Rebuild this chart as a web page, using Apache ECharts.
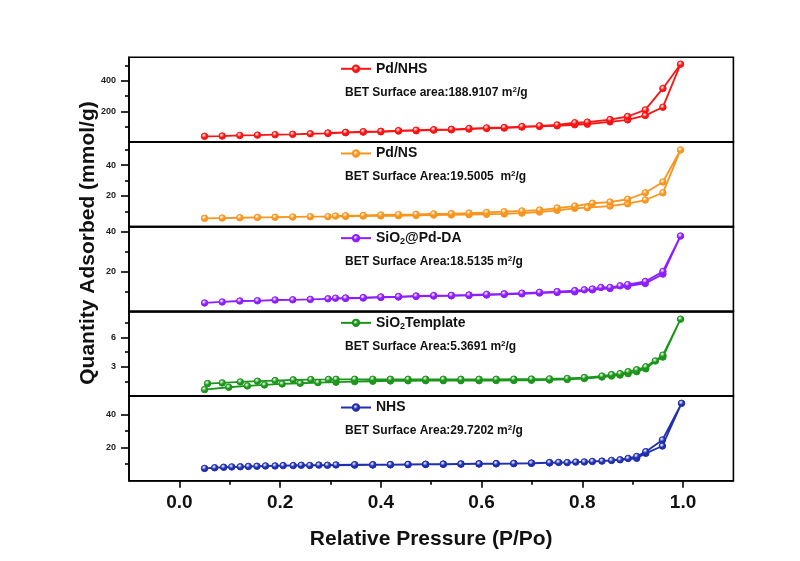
<!DOCTYPE html>
<html><head><meta charset="utf-8">
<script src="https://cdn.jsdelivr.net/npm/echarts@6/dist/echarts.min.js"></script>
<style>html,body{margin:0;padding:0;background:#fff}#c{width:800px;height:561px}</style>
</head><body><div id="c"></div>
<script>
// ---------- DATA ----------
const seriesNames = ['Pd/NHS', 'Pd/NS', 'SiO2@Pd-DA', 'SiO2Template', 'NHS'];
const legendLabels = ['Pd/NHS', 'Pd/NS', 'SiO{sub|2}@Pd-DA', 'SiO{sub|2}Template', 'NHS'];
const betLabels = [
  'BET Surface area:188.9107 m{sup|2}/g',
  'BET Surface Area:19.5005  m{sup|2}/g',
  'BET Surface Area:18.5135 m{sup|2}/g',
  'BET Surface Area:5.3691 m{sup|2}/g',
  'BET Surface Area:29.7202 m{sup|2}/g'
];
const colors = ['#fa1414', '#f7961e', '#8c1eff', '#1b961b', '#1f2fb0'];

const xLabelTicks = [0, 0.2, 0.4, 0.6, 0.8, 1.0];
const xMinorTicks = [0.1, 0.3, 0.5, 0.7, 0.9];
const yMaxima = [555, 55, 42.5, 8.7, 51];
const yLabelTicks = [[200, 400], [20, 40], [20, 40], [3, 6], [20, 40]];
const yMinorTicks = [[100, 300, 500], [10, 30, 50], [10, 30], [1.5, 4.5, 7.5], [10, 30]];

// Pd/NHS
const pdnhsAdsX = [0.05,0.085,0.12,0.155,0.19,0.225,0.26,0.295,0.33,0.365,0.40,0.435,0.47,0.505,0.54,0.575,0.61,0.645,0.68,0.715,0.75,0.785,0.81,0.855,0.89,0.925,0.96,0.995];
const pdnhsAdsY = [37,39,43,45,48,50,54,56,61,65,67,72,74,78,80,85,89,91,98,102,106,113,117,132,145,174,228,510];
const pdnhsDesX = [0.96,0.925,0.89,0.855,0.81,0.785,0.75,0.715,0.68,0.645,0.61,0.575,0.54,0.505,0.47,0.435,0.40,0.365,0.33,0.295];
const pdnhsDesY = [351,210,167,147,130,126,112,106,101,95,92,88,83,80,77,74,70,67,63,59];

// Pd/NS
const pdnsAdsX = [0.05,0.085,0.12,0.155,0.19,0.225,0.26,0.295,0.33,0.365,0.40,0.435,0.47,0.505,0.54,0.575,0.61,0.645,0.68,0.715,0.75,0.785,0.81,0.855,0.89,0.925,0.96,0.995];
const pdnsAdsY = [5.4,5.6,5.8,6.0,6.1,6.3,6.5,6.5,6.7,6.9,7.0,7.1,7.3,7.5,7.6,7.8,8.0,8.3,8.8,9.5,10.6,11.9,12.3,13.4,14.9,17.3,22.0,49.8];
const pdnsDesX = [0.96,0.925,0.89,0.855,0.82,0.785,0.75,0.715,0.68,0.645,0.61,0.575,0.54,0.505,0.47,0.435,0.40,0.365,0.33,0.31];
const pdnsDesY = [29.0,22.0,17.8,16.0,15.2,13.4,12.1,10.8,10.2,9.7,9.2,8.8,8.5,8.3,8.0,7.8,7.6,7.3,7.1,6.9];

// SiO2@Pd-DA
const pddaAdsX = [0.05,0.085,0.12,0.155,0.19,0.225,0.26,0.295,0.33,0.365,0.40,0.435,0.47,0.505,0.54,0.575,0.61,0.645,0.68,0.715,0.75,0.785,0.82,0.855,0.89,0.925,0.96,0.995];
const pddaAdsY = [4.2,4.7,5.2,5.3,5.7,5.8,6.0,6.3,6.5,6.7,7.0,7.2,7.5,7.7,7.8,8.0,8.2,8.5,8.8,9.2,9.5,9.8,10.8,11.5,12.6,14.0,18.7,37.8];
const pddaDesX = [0.96,0.925,0.89,0.875,0.855,0.837,0.82,0.804,0.785,0.75,0.715,0.68,0.645,0.61,0.575,0.54,0.505,0.47,0.435,0.40,0.365,0.33,0.31];
const pddaDesY = [20.0,15.0,13.4,12.8,12.0,12.0,11.2,10.8,10.4,9.9,9.5,9.1,8.8,8.5,8.2,8.0,7.9,7.7,7.4,7.2,6.9,6.7,6.6];

// SiO2 Template
const sio2AdsX = [0.05,0.098,0.135,0.169,0.204,0.24,0.275,0.311,0.348,0.384,0.419,0.454,0.489,0.524,0.559,0.595,0.629,0.664,0.699,0.735,0.77,0.804,0.839,0.858,0.875,0.891,0.908,0.926,0.945,0.96,0.995];
const sio2AdsY = [0.66,0.9,1.04,1.14,1.24,1.31,1.38,1.42,1.48,1.52,1.55,1.57,1.58,1.58,1.58,1.58,1.59,1.6,1.62,1.65,1.7,1.8,1.95,2.05,2.15,2.3,2.5,2.8,3.6,4.0,7.9];
const sio2DesX = [0.96,0.926,0.908,0.891,0.875,0.858,0.839,0.804,0.77,0.735,0.699,0.664,0.629,0.595,0.559,0.524,0.489,0.454,0.419,0.384,0.348,0.311,0.296,0.261,0.226,0.19,0.155,0.121,0.085,0.056];
const sio2DesY = [4.2,3.0,2.7,2.5,2.3,2.2,2.05,1.9,1.8,1.76,1.74,1.73,1.72,1.72,1.72,1.72,1.72,1.72,1.72,1.72,1.72,1.72,1.7,1.69,1.66,1.59,1.52,1.45,1.35,1.28];

// NHS
const nhsAdsX = [0.05,0.088,0.121,0.154,0.19,0.226,0.259,0.294,0.348,0.384,0.419,0.454,0.489,0.524,0.559,0.595,0.629,0.664,0.699,0.735,0.77,0.804,0.839,0.875,0.908,0.926,0.959,0.997];
const nhsAdsY = [7.4,8.1,8.4,8.7,8.9,9.1,9.2,9.3,9.4,9.5,9.6,9.7,9.8,9.9,10.0,10.1,10.2,10.3,10.5,10.7,10.9,11.3,11.8,12.6,13.5,16.5,20.9,46.6];
const nhsDesX = [0.959,0.926,0.908,0.891,0.858,0.82,0.787,0.753,0.735,0.699,0.664,0.629,0.595,0.559,0.524,0.489,0.454,0.419,0.384,0.348,0.311,0.277,0.242,0.206,0.171,0.137,0.104,0.07];
const nhsDesY = [24.5,17.5,14.6,13.4,12.2,11.6,11.2,11.0,10.9,10.6,10.4,10.3,10.2,10.1,10.0,9.9,9.8,9.7,9.6,9.6,9.5,9.4,9.3,9.1,8.9,8.6,8.3,7.8];

const branches = [
  [pdnhsAdsX, pdnhsAdsY, pdnhsDesX, pdnhsDesY],
  [pdnsAdsX, pdnsAdsY, pdnsDesX, pdnsDesY],
  [pddaAdsX, pddaAdsY, pddaDesX, pddaDesY],
  [sio2AdsX, sio2AdsY, sio2DesX, sio2DesY],
  [nhsAdsX, nhsAdsY, nhsDesX, nhsDesY]
];

// ---------- LAYOUT ----------
const FONT = 'Arial, "Liberation Sans", sans-serif';
const GRID_LEFT = 129, GRID_RIGHT = 66.6, TOP0 = 57.3, PANEL_H = 84.68;
const axisLineStyle = { color: '#000', width: 1.6 };

function zip(xs, ys) { return xs.map((x, k) => [x, ys[k]]); }
function ballFill(c) {
  return { type: 'radial', x: 0.4, y: 0.35, r: 0.75,
    colorStops: [{ offset: 0, color: '#ffffff' }, { offset: 0.45, color: c }, { offset: 1, color: c }] };
}

const grids = [], xAxes = [], yAxes = [], series = [], legends = [], titles = [];
for (let i = 0; i < 5; i++) {
  const top = TOP0 + i * PANEL_H;
  grids.push({ left: GRID_LEFT, right: GRID_RIGHT, top: top, height: PANEL_H, show: true,
    borderColor: '#000', borderWidth: 1.6, backgroundColor: 'transparent' });
  const last = i === 4;
  xAxes.push({ type: 'value', gridIndex: i, min: -0.1, max: 1.1, position: 'bottom',
    axisLine: { show: true, onZero: false, lineStyle: axisLineStyle },
    axisTick: { show: last, customValues: xLabelTicks, length: 7, lineStyle: axisLineStyle },
    axisLabel: { show: last, customValues: xLabelTicks, formatter: v => v.toFixed(1),
      fontFamily: FONT, fontSize: 19, fontWeight: 'bold', color: '#111', margin: 13 },
    splitLine: { show: false },
    name: last ? 'Relative Pressure (P/Po)' : '', nameLocation: 'middle', nameGap: 48,
    nameTextStyle: { fontFamily: FONT, fontSize: 21, fontWeight: 'bold', color: '#111' } });
  yAxes.push({ type: 'value', gridIndex: i, min: 0, max: yMaxima[i], position: 'left',
    axisLine: { show: true, onZero: false, lineStyle: axisLineStyle },
    axisTick: { show: true, customValues: yLabelTicks[i], length: 8, lineStyle: axisLineStyle },
    axisLabel: { customValues: yLabelTicks[i], fontFamily: FONT, fontSize: 9, fontWeight: 'bold', color: '#222', margin: 13 },
    splitLine: { show: false } });
  yAxes.push({ type: 'value', gridIndex: i, min: 0, max: yMaxima[i], position: 'left',
    axisLine: { show: false, onZero: false },
    axisTick: { show: true, customValues: yMinorTicks[i], length: 4, lineStyle: axisLineStyle },
    axisLabel: { show: false }, splitLine: { show: false } });
  const b = branches[i];
  series.push({ type: 'line', name: seriesNames[i], xAxisIndex: i, yAxisIndex: 2 * i,
    data: zip(b[0], b[1]).concat(zip(b[2], b[3])),
    symbol: 'circle', symbolSize: 6.5, showAllSymbol: true,
    lineStyle: { color: colors[i], width: 1.8 },
    itemStyle: { color: ballFill(colors[i]), borderColor: colors[i], borderWidth: 1 },
    emphasis: { disabled: true }, animation: false });
  legends.push({ data: [seriesNames[i]], left: 340, top: top + 11.5 - 8, padding: 0,
    itemWidth: 30, itemHeight: 8, selectedMode: false,
    formatter: () => legendLabels[i],
    textStyle: { fontFamily: FONT, fontSize: 14, fontWeight: 'bold', color: '#111', lineHeight: 16,
      rich: { sub: { fontFamily: FONT, fontSize: 9, fontWeight: 'bold', color: '#111', verticalAlign: 'bottom', lineHeight: 16 } } } });
  titles.push({ text: betLabels[i], left: 345, top: top + 35 - 7, padding: 0,
    textStyle: { fontFamily: FONT, fontSize: 12, fontWeight: 'bold', color: '#111', lineHeight: 14,
      rich: { sup: { fontFamily: FONT, fontSize: 8, fontWeight: 'bold', color: '#111', verticalAlign: 'top', lineHeight: 8 } } } });
}
// minor x ticks on bottom panel
xAxes.push({ type: 'value', gridIndex: 4, min: -0.1, max: 1.1, position: 'bottom',
  axisLine: { show: false, onZero: false },
  axisTick: { show: true, customValues: xMinorTicks, length: 4, lineStyle: axisLineStyle },
  axisLabel: { show: false }, splitLine: { show: false } });

const chart = echarts.init(document.getElementById('c'), null, { renderer: 'canvas' });
chart.setOption({
  animation: false,
  backgroundColor: '#ffffff',
  grid: grids, xAxis: xAxes, yAxis: yAxes, series: series, legend: legends, title: titles,
  graphic: [{ type: 'text', x: 88, y: 243, rotation: Math.PI / 2,
    style: { text: 'Quantity Adsorbed (mmol/g)', fontFamily: FONT, fontSize: 21, fontWeight: 'bold',
      fill: '#111', align: 'center', verticalAlign: 'middle' } }]
});
</script></body></html>
